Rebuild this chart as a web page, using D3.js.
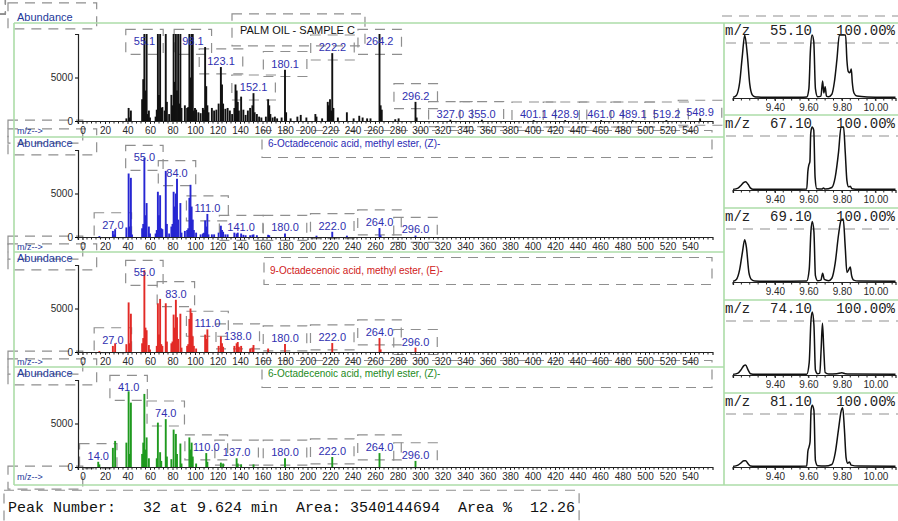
<!DOCTYPE html>
<html><head><meta charset="utf-8">
<script src="https://cdn.jsdelivr.net/npm/d3@7/dist/d3.min.js"></script>
<style>body{margin:0;background:#fff}svg{display:block}</style>
</head><body><svg id="c" width="898" height="521"></svg>
<script>
// ================= DATA =================
const mzTickValues = d3.range(0, 541, 20);
const rtTickLabels = ["9.40", "9.60", "9.80", "10.00"];

const sampleTitle = "PALM OIL - SAMPLE C";
const sampleSpectrum = [[39,300],[41,1500],[42,400],[43,1200],[53,2500],[54,4800],[55,12000],[56,3500],[57,12000],[58,800],[59,1200],[60,400],[65,500],[66,1300],[67,12000],[68,3000],[69,12000],[70,1500],[71,1600],[73,1200],[74,12000],[75,2200],[77,800],[79,3000],[80,1800],[81,12000],[82,4500],[83,12000],[84,3500],[85,12000],[86,2000],[87,12000],[88,1500],[91,1800],[93,1500],[94,1600],[95,12000],[96,5000],[97,12000],[98,12000],[99,1200],[100,1500],[101,1300],[103,1000],[105,900],[107,1500],[108,1300],[109,8500],[110,4000],[111,1800],[112,1000],[115,1500],[117,1200],[119,1300],[121,2000],[123,6200],[124,4200],[125,2000],[127,1400],[129,1500],[131,1200],[133,800],[135,1500],[136,4200],[137,3500],[138,2200],[139,1200],[141,2800],[143,1300],[145,700],[147,1200],[149,1500],[151,1800],[152,3200],[153,1000],[155,800],[157,500],[159,400],[163,500],[165,2500],[166,1800],[167,800],[169,400],[171,500],[173,300],[177,400],[180,5900],[181,1000],[185,300],[191,500],[194,700],[199,400],[207,800],[208,500],[213,300],[218,2200],[219,1800],[220,2500],[221,1200],[222,7800],[223,1500],[227,400],[235,1000],[241,300],[246,600],[249,400],[253,300],[256,300],[264,12000],[265,1800],[266,1300],[278,200],[281,300],[296,2200],[297,400],[327,150],[355,150],[401,100],[429,100],[461,100],[489,100],[519,100],[549,300]];
const sampleLabels = ["55.1","98.1","123.1","152.1","180.1","222.2","264.2","296.2","327.0","355.0","401.1","428.9","461.0","489.1","519.2","548.9"];

const hit1Name = "6-Octadecenoic acid, methyl ester, (Z)-";
const hit1Spectrum = [[15,100],[27,700],[28,300],[29,900],[39,1100],[41,7300],[42,1200],[43,6800],[44,300],[53,1000],[54,1500],[55,9100],[56,2500],[57,3900],[59,1200],[60,400],[65,400],[66,800],[67,5200],[68,2500],[69,4800],[70,1000],[71,900],[74,7600],[75,1500],[77,400],[79,1200],[80,1500],[81,5200],[82,3500],[83,5000],[84,6700],[85,2000],[87,3900],[88,500],[91,700],[93,800],[94,1000],[95,4500],[96,6000],[97,3500],[98,2000],[99,800],[101,500],[105,300],[107,400],[108,500],[109,1900],[110,1200],[111,2650],[112,300],[115,300],[117,300],[121,500],[123,1300],[124,800],[125,600],[127,300],[129,300],[135,500],[137,400],[138,500],[141,400],[143,250],[145,200],[149,200],[151,250],[152,300],[155,200],[165,250],[166,200],[180,400],[208,150],[222,600],[235,150],[264,1030],[265,200],[296,170]];
const hit1Labels = ["27.0","55.0","84.0","111.0","141.0","180.0","222.0","264.0","296.0"];

const hit2Name = "9-Octadecenoic acid, methyl ester, (E)-";
const hit2Spectrum = [[15,100],[27,700],[29,1000],[39,900],[41,5700],[42,1000],[43,4400],[53,1000],[54,1600],[55,9400],[56,2800],[57,2500],[59,800],[60,300],[66,700],[67,5600],[68,2000],[69,6100],[70,900],[71,700],[74,5600],[75,1200],[79,1000],[80,1200],[81,4300],[82,2800],[83,6000],[84,4000],[85,1500],[87,4400],[88,500],[93,700],[94,900],[95,3800],[96,5000],[97,4500],[98,1800],[99,700],[101,400],[109,2000],[110,1500],[111,2600],[121,700],[123,1800],[124,1000],[125,600],[135,700],[137,1000],[138,1150],[139,600],[141,700],[149,400],[151,500],[152,800],[165,400],[180,920],[222,1030],[264,1600],[265,300],[296,500]];
const hit2Labels = ["27.0","55.0","83.0","111.0","138.0","180.0","222.0","264.0","296.0"];

const hit3Name = "6-Octadecenoic acid, methyl ester, (Z)-";
const hit3Spectrum = [[14,600],[15,300],[27,2200],[29,3000],[39,2800],[41,8700],[42,1500],[43,7400],[53,1500],[54,2800],[55,8400],[56,2000],[57,3400],[59,1000],[66,1000],[67,5100],[69,1700],[70,700],[74,5500],[75,1200],[79,900],[81,4300],[83,3800],[84,1500],[87,2700],[88,400],[95,3400],[96,2000],[97,2800],[98,1200],[101,400],[110,1600],[111,600],[123,500],[125,400],[137,1000],[138,400],[141,300],[152,300],[180,1000],[222,1150],[264,1600],[296,700]];
const hit3Labels = ["14.0","41.0","74.0","110.0","137.0","180.0","222.0","264.0","296.0"];

// extracted ion chromatograms: [retention time (min), % of max]
const ionMasses = ["55.10","67.10","69.10","74.10","81.10"];
const ionScale = "100.00%";
const ion55 = [[9.15,1],[9.17,4],[9.19,25],[9.205,65],[9.22,100],[9.235,70],[9.25,22],[9.265,5],[9.28,2],[9.3,1.5],[9.35,1],[9.45,1],[9.55,1],[9.59,1.5],[9.603,15],[9.612,75],[9.622,100],[9.632,90],[9.642,15],[9.655,2],[9.675,3],[9.685,27],[9.692,8],[9.70,18],[9.708,3],[9.72,2],[9.74,6],[9.755,25],[9.77,60],[9.785,100],[9.822,100],[9.83,60],[9.838,42],[9.848,40],[9.856,46],[9.862,25],[9.872,8],[9.89,3],[9.95,1.5],[10.05,1],[10.12,1]];
const ion67 = [[9.15,1],[9.18,3],[9.2,8],[9.215,12],[9.225,13],[9.24,9],[9.255,3],[9.27,1],[9.35,1],[9.5,1],[9.59,1.5],[9.597,30],[9.603,40],[9.609,45],[9.614,90],[9.622,100],[9.632,95],[9.64,20],[9.65,2],[9.68,1.5],[9.69,3],[9.70,1.5],[9.74,4],[9.76,20],[9.78,60],[9.795,100],[9.81,100],[9.82,60],[9.83,15],[9.84,5],[9.85,6],[9.86,2],[9.9,1],[10.12,1]];
const ion69 = [[9.15,1],[9.17,4],[9.19,20],[9.205,45],[9.22,67],[9.23,55],[9.245,15],[9.26,4],[9.28,1.5],[9.4,1],[9.59,1.5],[9.605,20],[9.615,80],[9.623,96],[9.633,80],[9.642,10],[9.655,2],[9.675,3],[9.685,14],[9.695,4],[9.72,2],[9.74,6],[9.76,30],[9.78,75],[9.795,98],[9.808,100],[9.82,55],[9.83,15],[9.842,20],[9.85,24],[9.858,10],[9.87,3],[9.9,1.5],[10.12,1]];
const ion74 = [[9.15,1],[9.18,3],[9.2,9],[9.215,15],[9.225,16],[9.24,8],[9.255,2],[9.28,1],[9.4,1],[9.59,1],[9.605,20],[9.615,85],[9.623,100],[9.633,80],[9.642,8],[9.655,2],[9.668,3],[9.676,40],[9.684,82],[9.692,40],[9.70,4],[9.72,1.5],[9.77,2],[9.8,3.5],[9.82,2],[9.85,1.5],[10.12,1]];
const ion81 = [[9.15,1],[9.18,3],[9.2,7],[9.215,10],[9.225,10],[9.24,5],[9.255,1.5],[9.28,1],[9.5,1],[9.59,1.5],[9.597,25],[9.604,32],[9.61,40],[9.616,90],[9.623,98],[9.633,90],[9.642,10],[9.655,2],[9.7,1.5],[9.74,4],[9.76,22],[9.78,60],[9.795,88],[9.805,94],[9.815,60],[9.825,15],[9.835,6],[9.845,8],[9.855,3],[9.9,1.5],[10.12,1]];

const peakInfo = "Peak Number:   32 at 9.624 min  Area: 3540144694  Area %  12.26";

// ================= DRAWING =================
const svg = d3.select("#c");
const GREEN = "#acdca8", DASH = "#8f8f8f", LABEL = "#3030b0", AXIS_BLUE = "#23399a";
const SANS = "'Liberation Sans', Arial, sans-serif", MONO = "'Liberation Mono', 'Courier New', monospace";

const dashG = svg.append("g");
const frameG = svg.append("g");
const mainG = svg.append("g");

function dashBox(node, p) {
  const b = node.getBBox();
  dashG.append("rect")
    .attr("x", b.x - p[0]).attr("y", b.y - p[1])
    .attr("width", b.width + p[0] + p[2]).attr("height", b.height + p[1] + p[3])
    .attr("fill", "none").attr("stroke", DASH).attr("stroke-width", 1.2)
    .attr("stroke-dasharray", "10,7");
}

// frames
const frameLines = [
  [14, 23, 898, 23], [14, 485, 898, 485], [14, 23, 14, 485], [724, 23, 724, 485],
  [14, 137, 724, 137], [14, 252, 724, 252], [14, 367, 724, 367],
  [724, 115, 898, 115], [724, 208, 898, 208], [724, 300, 898, 300], [724, 393, 898, 393]
];
frameG.selectAll("line").data(frameLines).join("line")
  .attr("x1", d => d[0]).attr("y1", d => d[1]).attr("x2", d => d[2]).attr("y2", d => d[3])
  .attr("stroke", GREEN).attr("stroke-width", 1.6);

// ---- mass spectra ----
const x = d3.scaleLinear().domain([-4, 560]).range([78, 712.5]);
const spectra = [
  { data: sampleSpectrum, labels: sampleLabels, color: "#111111", name: sampleTitle, nameColor: "#111", nameX: 240, nameY: 30, base: 121, abY: 17 },
  { data: hit1Spectrum, labels: hit1Labels, color: "#2626d2", name: hit1Name, nameColor: "#2a2ab4", nameX: 268, nameY: 143, base: 237, abY: 143 },
  { data: hit2Spectrum, labels: hit2Labels, color: "#e22a26", name: hit2Name, nameColor: "#d02020", nameX: 270, nameY: 270, base: 352, abY: 258 },
  { data: hit3Spectrum, labels: hit3Labels, color: "#1f9a1f", name: hit3Name, nameColor: "#1c8a1c", nameX: 268, nameY: 373, base: 467, abY: 373 }
];
const SPAN = 87;

spectra.forEach((s, i) => {
  const g = mainG.append("g");
  const y = d3.scaleLinear().domain([0, 10000]).range([s.base, s.base - SPAN]).clamp(true);
  const lookup = new Map(s.data);

  // bars
  g.selectAll("line.bar").data(s.data).join("line").attr("class", "bar")
    .attr("x1", d => x(d[0])).attr("x2", d => x(d[0]))
    .attr("y1", y(0)).attr("y2", d => y(d[1]))
    .attr("stroke", s.color).attr("stroke-width", 1.9);

  // x axis
  const ax = g.append("g").attr("transform", `translate(0,${s.base})`)
    .call(d3.axisBottom(x).tickValues(mzTickValues).tickFormat(d3.format("d")).tickSize(3).tickPadding(3));
  ax.select(".domain").attr("stroke", "#222").attr("stroke-width", 1.2);
  ax.selectAll(".tick line").attr("stroke", "#222");
  ax.selectAll("text").attr("font-family", SANS).attr("font-size", 10).attr("fill", "#2a2a2a");
  g.selectAll("line.minor").data(d3.range(-4, 557, 4).filter(v => v % 20 !== 0)).join("line").attr("class", "minor")
    .attr("x1", d => x(d)).attr("x2", d => x(d)).attr("y1", s.base).attr("y2", s.base + 2.5)
    .attr("stroke", "#222").attr("stroke-width", 1);

  // y axis
  const ay = g.append("g").attr("transform", `translate(${x(-4)},0)`)
    .call(d3.axisLeft(y).tickValues([0, 5000]).tickFormat(d3.format("d")).tickSize(3).tickPadding(2));
  ay.select(".domain").attr("stroke", "#222").attr("stroke-width", 1.2);
  ay.selectAll("text").attr("font-family", SANS).attr("font-size", 10).attr("fill", "#2a2a2a");
  dashBox(ay.selectAll(".tick text").nodes()[1], [10, 8, 10, 9]);

  // Abundance + m/z
  const ab = g.append("text").attr("x", 17).attr("y", s.abY).attr("dy", "0.35em")
    .attr("font-family", SANS).attr("font-size", 11).attr("fill", AXIS_BLUE).text("Abundance");
  dashBox(ab.node(), [9, 8, 24, 6]);
  const mz = g.append("text").attr("x", 17).attr("y", s.base + 10).attr("dy", "0.35em")
    .attr("font-family", SANS).attr("font-size", 9).attr("fill", AXIS_BLUE).text("m/z-->");
  dashBox(mz.node(), [9, 6, 40, 7]);

  // name / title
  const nm = g.append("text").attr("x", s.nameX).attr("y", s.nameY).attr("dy", "0.35em")
    .attr("font-family", SANS).attr("font-size", i === 0 ? 11 : 10).attr("fill", s.nameColor).text(s.name);
  dashBox(nm.node(), i === 0 ? [8, 10, 10, 10] : [6, 7, 718 - s.nameX - nm.node().getBBox().width - 6, 9]);

  // peak labels
  const top = s.base - SPAN;
  g.selectAll("text.pk").data(s.labels).join("text").attr("class", "pk")
    .attr("x", d => x(parseFloat(d)))
    .attr("y", d => {
      const v = lookup.get(Math.round(parseFloat(d))) || 0;
      return Math.max(top + 7.5, Math.min(y(v) - 6, s.base - 6));
    })
    .attr("dy", "0.35em").attr("text-anchor", "middle")
    .attr("font-family", SANS).attr("font-size", 11).attr("fill", LABEL).text(d => d)
    .each(function () { dashBox(this, [8, 6, 8, 7]); });
});

// ---- extracted ion chromatograms ----
const rx = d3.scaleLinear().domain([9.15, 10.12]).range([733, 895.5]);
const ions = [ion55, ion67, ion69, ion74, ion81];
const ionBase = [98, 190, 282, 375, 467];
const ionTop = [22, 115, 208, 300, 393];
const IH = 63;

ions.forEach((trace, i) => {
  const g = mainG.append("g");
  const y = d3.scaleLinear().domain([0, 100]).range([ionBase[i], ionBase[i] - IH]).clamp(true);
  // dashed guide under label
  dashG.append("line").attr("x1", 726).attr("x2", 898).attr("y1", ionTop[i] + 21).attr("y2", ionTop[i] + 21)
    .attr("stroke", DASH).attr("stroke-width", 1.2).attr("stroke-dasharray", "10,7");

  const ax = g.append("g").attr("transform", `translate(0,${ionBase[i]})`)
    .call(d3.axisBottom(rx).tickValues(rtTickLabels.map(Number)).tickFormat(d3.format(".2f")).tickSize(3).tickPadding(3));
  ax.select(".domain").attr("stroke", "#222").attr("stroke-width", 1.2);
  ax.selectAll(".tick line").attr("stroke", "#222");
  ax.selectAll("text").attr("font-family", SANS).attr("font-size", 10).attr("fill", "#2a2a2a");
  g.selectAll("line.minor").data(d3.range(183, 203).map(k => k * 0.05)).join("line").attr("class", "minor")
    .attr("x1", d => rx(d)).attr("x2", d => rx(d)).attr("y1", ionBase[i]).attr("y2", ionBase[i] + 2.5)
    .attr("stroke", "#222");

  g.append("path").datum(trace)
    .attr("d", d3.line().x(d => rx(d[0])).y(d => y(d[1])).curve(d3.curveMonotoneX))
    .attr("fill", "none").attr("stroke", "#111").attr("stroke-width", 1.5);

  const ly = ionTop[i] + 8;
  g.append("text").attr("x", 725).attr("y", ly).attr("dy", "0.35em")
    .attr("font-family", MONO).attr("font-size", 14).attr("fill", "#222").text("m/z");
  g.append("text").attr("x", 770).attr("y", ly).attr("dy", "0.35em")
    .attr("font-family", MONO).attr("font-size", 14).attr("fill", "#222").text(ionMasses[i]);
  g.append("text").attr("x", 895).attr("y", ly).attr("dy", "0.35em").attr("text-anchor", "end")
    .attr("font-family", MONO).attr("font-size", 14).attr("fill", "#222").text(ionScale);
});
dashG.append("line").attr("x1", 722).attr("x2", 898).attr("y1", 16).attr("y2", 16)
  .attr("stroke", DASH).attr("stroke-width", 1.2).attr("stroke-dasharray", "10,7");

// ---- footer ----
const ft = mainG.append("text").attr("x", 8).attr("y", 507).attr("dy", "0.35em")
  .attr("font-family", MONO).attr("font-size", 15).attr("fill", "#111")
  .attr("xml:space", "preserve").style("white-space", "pre").text(peakInfo);
dashBox(ft.node(), [4, 10, 4, 8]);
</script>
</body></html>
